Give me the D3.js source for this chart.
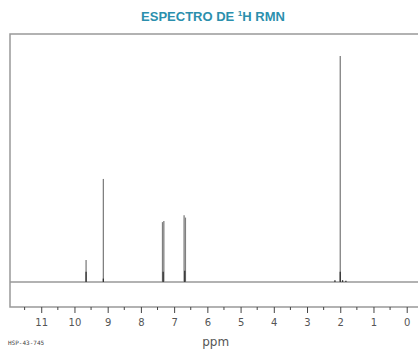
<!DOCTYPE html>
<html>
<head>
<meta charset="utf-8">
<script src="https://d3js.org/d3.v7.min.js"></script>
<style>
  body { margin: 0; background: #fff; }
</style>
</head>
<body>
<div id="chart"></div>
<script>
// peak positions (ppm) and relative heights (tallest = 100)
var shifts = [9.65, 9.13, 7.35, 7.31, 6.70, 6.66, 2.00];
var heights = [9.7, 45.6, 26.5, 27.0, 29.5, 28.5, 100];
// small multiplet lines near the base of the peaks (darker)
var baseShifts = [9.65, 9.13, 7.33, 6.68, 2.00, 2.16, 1.93, 1.83];
var baseHeights = [4.5, 1.5, 4.5, 5, 4.5, 0.8, 0.8, 0.6];
var tickLabels = [11, 10, 9, 8, 7, 6, 5, 4, 3, 2, 1, 0];

var width = 418, height = 349;
var frameLeft = 10, frameTop = 34, frameBottom = 307, baseY = 282, peakTop = 56;

var svg = d3.select("#chart").append("svg")
    .attr("width", width)
    .attr("height", height);

var x = d3.scaleLinear().domain([11.94, -0.34]).range([frameLeft, width]);
var y = d3.scaleLinear().domain([0, 100]).range([baseY, peakTop]);

// title
var title = svg.append("text")
    .attr("x", 213)
    .attr("y", 21)
    .attr("text-anchor", "middle")
    .style("font-family", "Liberation Sans, Arial, sans-serif")
    .style("font-weight", "bold")
    .style("font-size", "13px")
    .style("fill", "#2b8fad");
title.append("tspan").text("ESPECTRO DE ");
title.append("tspan").attr("dy", -5).style("font-size", "8px").text("1");
title.append("tspan").attr("dy", 5).text("H RMN");

// frame
svg.append("path")
    .attr("d", "M" + width + "," + frameTop + "H" + frameLeft + "V" + frameBottom + "H" + width)
    .style("stroke", "#999")
    .style("stroke-width", 1.5)
    .style("fill", "none");

// baseline
svg.append("line")
    .attr("x1", frameLeft).attr("x2", width)
    .attr("y1", baseY).attr("y2", baseY)
    .style("stroke", "#999")
    .style("stroke-width", 1.5);

// peaks
svg.append("g").selectAll("line")
    .data(shifts)
    .enter()
    .append("line")
    .attr("x1", function (d) { return x(d); })
    .attr("x2", function (d) { return x(d); })
    .attr("y1", y(0))
    .attr("y2", function (d, i) { return y(heights[i]); })
    .style("stroke", "#808080")
    .style("stroke-width", 1.3);

svg.append("g").selectAll("line")
    .data(baseShifts)
    .enter()
    .append("line")
    .attr("x1", function (d) { return x(d); })
    .attr("x2", function (d) { return x(d); })
    .attr("y1", y(0))
    .attr("y2", function (d, i) { return y(baseHeights[i]); })
    .style("stroke", "#333")
    .style("stroke-width", 1.3);

// x axis
var axis = d3.axisBottom(x)
    .tickValues(tickLabels)
    .tickSize(6)
    .tickPadding(6)
    .tickFormat(d3.format("d"));
var gx = svg.append("g")
    .attr("transform", "translate(0," + frameBottom + ")")
    .call(axis);
gx.select(".domain").remove();
gx.selectAll(".tick line").style("stroke", "#444");
gx.selectAll(".tick text")
    .style("font-family", "DejaVu Sans, sans-serif")
    .style("font-size", "10px")
    .style("fill", "#555");

// minor ticks
var minor = d3.range(11.5, -0.1, -1);
svg.append("g").selectAll("line")
    .data(minor)
    .enter()
    .append("line")
    .attr("x1", function (d) { return x(d); })
    .attr("x2", function (d) { return x(d); })
    .attr("y1", frameBottom)
    .attr("y2", frameBottom + 3)
    .style("stroke", "#444");

// axis label
svg.append("text")
    .attr("x", x(5.75))
    .attr("y", 346)
    .attr("text-anchor", "middle")
    .style("font-family", "DejaVu Sans, sans-serif")
    .style("font-size", "12px")
    .style("fill", "#555")
    .text("ppm");

// code label
svg.append("text")
    .attr("x", 8)
    .attr("y", 345)
    .style("font-family", "DejaVu Sans Mono, monospace")
    .style("font-size", "6px")
    .style("fill", "#444")
    .text("HSP-43-745");
</script>
</body>
</html>
